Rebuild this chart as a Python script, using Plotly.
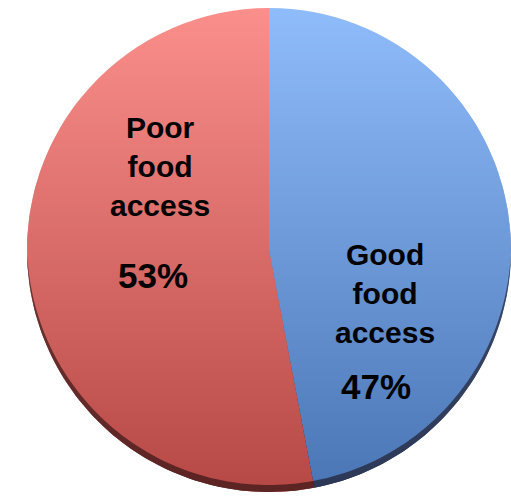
import numpy as np
import plotly.graph_objects as go

# Pie data
categories = ["Good food access", "Poor food access"]
shares = [47, 53]
label_lines = [["Good", "food", "access"], ["Poor", "food", "access"]]

# Slice colours are semi-transparent so the shading disc underneath shows through
slice_colors = ["rgba(102,164,251,0.72)", "rgba(252,101,96,0.72)"]

W, H = 511, 498
CX, CY, R = 269, 250, 242          # pie centre / radius, pixels from top-left


def up(py):
    """Convert a pixel row (from the top) to the y-up axis used below."""
    return H - py


fig = go.Figure()

# Shading disc: light at the top fading to black at the bottom
theta = np.linspace(0, 2 * np.pi, 361)
fig.add_trace(go.Scatter(
    x=CX + R * np.cos(theta),
    y=up(CY + R * np.sin(theta)),
    mode="lines",
    line=dict(width=0, color="rgba(0,0,0,0)"),
    fill="toself",
    fillgradient=dict(
        type="vertical",
        colorscale=[[0, "rgb(0,0,0)"], [1, "rgb(248,250,250)"]],
        start=up(CY + R),
        stop=up(CY - R),
    ),
    hoverinfo="skip",
    showlegend=False,
))

fig.add_trace(go.Pie(
    labels=categories,
    values=shares,
    sort=False,
    direction="clockwise",
    rotation=0,
    marker=dict(colors=slice_colors, line=dict(width=0)),
    textinfo="none",
    hoverinfo="skip",
    showlegend=False,
    domain=dict(
        x=[(CX - R) / W, (CX + R) / W],
        y=[1 - (CY + R) / H, 1 - (CY - R) / H],
    ),
))

# Dark rim along the lower edge (crescent between the edge and a raised copy)
rim = 7
phi = np.linspace(0.05, np.pi - 0.05, 120)
outer = [(CX + R * np.cos(p), up(CY + R * np.sin(p))) for p in phi]
inner = [(CX + R * np.cos(p), up(CY - rim + R * np.sin(p))) for p in phi[::-1]]
pts = outer + inner
rim_path = "M " + " L ".join(f"{x:.2f},{y:.2f}" for x, y in pts) + " Z"
fig.add_shape(type="path", path=rim_path, xref="x", yref="y",
              fillcolor="rgba(20,5,10,0.55)", line=dict(width=0), layer="above")

# Slice labels: name block and percentage, placed by hand inside each slice
label_pos = [(384.5, 293), (160, 166.4)]
pct_pos = [(376, 386.6), (152.5, 275.6)]
font_family = "Liberation Sans, Arial, sans-serif"
for lines, val, (lx, ly), (px, py) in zip(label_lines, shares, label_pos, pct_pos):
    fig.add_annotation(
        x=lx, y=up(ly), xref="x", yref="y", text="<br>".join(lines),
        showarrow=False, xanchor="center", yanchor="middle", align="center",
        font=dict(family=font_family, size=30, color="black", weight="bold"),
    )
    fig.add_annotation(
        x=px, y=up(py), xref="x", yref="y", text=f"{val}%",
        showarrow=False, xanchor="center", yanchor="middle",
        font=dict(family=font_family, size=35, color="black", weight="bold"),
    )

fig.update_xaxes(range=[0, W], visible=False, fixedrange=True)
fig.update_yaxes(range=[0, H], visible=False, fixedrange=True)
fig.update_layout(
    width=W, height=H,
    margin=dict(l=0, r=0, t=0, b=0),
    paper_bgcolor="white", plot_bgcolor="white",
)

fig.write_html("out.html")
